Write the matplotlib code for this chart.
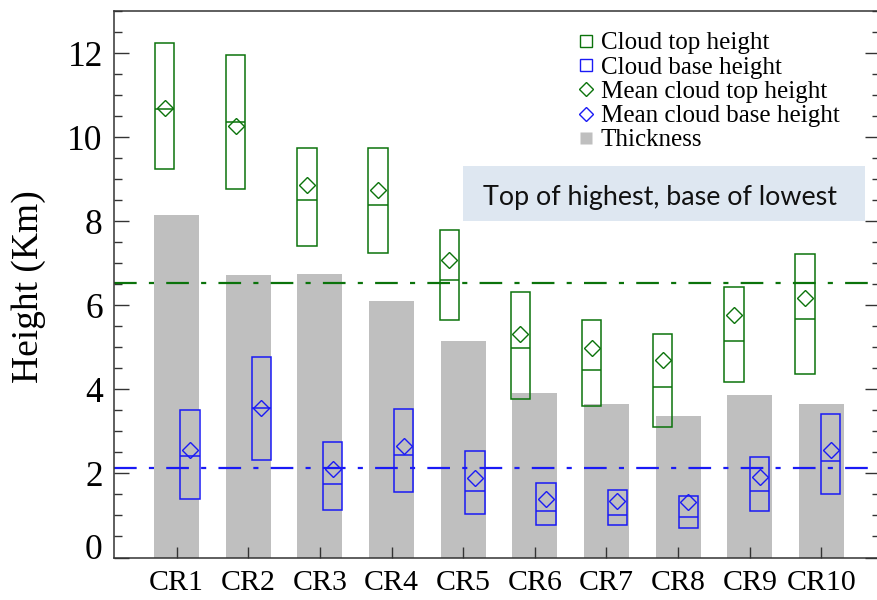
import matplotlib
matplotlib.use("Agg")
import matplotlib.pyplot as plt
import numpy as np
from matplotlib.lines import Line2D
from matplotlib.patches import Rectangle
from matplotlib.transforms import ScaledTranslation

# Cloud regimes and their height statistics (km)
categories = ["CR1", "CR2", "CR3", "CR4", "CR5", "CR6", "CR7", "CR8", "CR9", "CR10"]
thickness = [8.14, 6.72, 6.74, 6.10, 5.15, 3.91, 3.65, 3.37, 3.86, 3.65]

top_max = [12.23, 11.95, 9.73, 9.74, 7.78, 6.31, 5.64, 5.31, 6.43, 7.22]
top_min = [9.24, 8.76, 7.41, 7.24, 5.64, 3.78, 3.60, 3.10, 4.17, 4.37]
top_median = [10.68, 10.35, 8.51, 8.39, 6.61, 4.98, 4.47, 4.06, 5.16, 5.68]
top_mean = [10.70, 10.26, 8.85, 8.75, 7.07, 5.31, 4.99, 4.69, 5.77, 6.18]

base_max = [3.52, 4.78, 2.74, 3.54, 2.53, 1.77, 1.60, 1.46, 2.39, 3.41]
base_min = [1.39, 2.32, 1.12, 1.55, 1.03, 0.78, 0.77, 0.71, 1.11, 1.51]
base_median = [2.41, 3.56, 1.74, 2.43, 1.57, 1.10, 1.02, 0.97, 1.58, 2.30]
base_mean = [2.56, 3.56, 2.11, 2.65, 1.90, 1.40, 1.35, 1.32, 1.92, 2.55]

# overall reference levels
ref_top = 6.52
ref_base = 2.14

legend_labels = ["Cloud top height", "Cloud base height", "Mean cloud top height",
                 "Mean cloud base height", "Thickness"]
note_text = "Top of highest, base of lowest"

GREEN = "#0b730b"
BLUE = "#1a1af5"
GRAY = "#bfbfbf"
DASHDOT = (0, (10.2, 5.5, 2.3, 5.5))

plt.rcParams["font.family"] = ["Liberation Serif", "DejaVu Serif"]

W, H = 877, 600
fig = plt.figure(figsize=(W / 100, H / 100), dpi=100)
ax = fig.add_axes([113.5 / W, 1 - 557.5 / H, (879.5 - 113.5) / W, (557.5 - 11) / H])

x = np.arange(1, len(categories) + 1)
ax.bar(x, thickness, width=0.63, color=GRAY, zorder=1)

ax.axhline(ref_top, color=GREEN, lw=1.6, linestyle=DASHDOT, zorder=2)
ax.axhline(ref_base, color=BLUE, lw=1.6, linestyle=DASHDOT, zorder=2)

step = 0.9934
box_w = 0.27


def draw_boxes(xs, lo, hi, med, mean, color):
    lo = np.asarray(lo)
    hi = np.asarray(hi)
    ax.bar(xs, hi - lo, bottom=lo, width=box_w, fill=False, edgecolor=color,
           linewidth=1.1, zorder=3)
    ax.hlines(med, xs - box_w / 2, xs + box_w / 2, colors=color, linewidth=1.1, zorder=3)
    ax.plot(xs, mean, linestyle="none", marker="D", ms=8.1, mfc="none", mec=color,
            mew=1.0, zorder=4)


draw_boxes(x * step - 0.1614, top_min, top_max, top_median, top_mean, GREEN)
draw_boxes(x * step + 0.1966, base_min, base_max, base_median, base_mean, BLUE)

ax.set_xlim(0.12, 10.81)
ax.set_ylim(0, 13)
ax.set_xticks(x, categories)
ax.set_yticks(np.arange(0, 13, 2))
ax.set_yticks(np.arange(0, 13.01, 0.5), minor=True)

for s in ax.spines.values():
    s.set_linewidth(1.1)
    s.set_color("#333333")

ax.tick_params(axis="y", which="major", direction="in", length=10.8, width=1.0,
               left=True, right=True, labelsize=25.5, pad=7.7, color="#333333")
ax.tick_params(axis="y", which="minor", direction="in", length=5.5, width=1.0,
               left=True, right=True, color="#333333")
ax.tick_params(axis="x", which="major", direction="in", length=8, width=1.0,
               top=False, labelsize=21.5, pad=9, color="#333333")
ax.tick_params(axis="x", which="minor", bottom=False, top=False)

# lift the "0" label off the bottom spine
zero_lab = ax.yaxis.get_major_ticks()[0].label1
zero_lab.set_transform(zero_lab.get_transform() + ScaledTranslation(0, 8 / 72, fig.dpi_scale_trans))

fig.text(29 / W, 1 - 286.3 / H, "Height (Km)", rotation=90, ha="center", va="center",
         fontsize=27)

handles = [
    Line2D([], [], linestyle="none", marker="s", ms=9, mfc="none", mec=GREEN, mew=1.0),
    Line2D([], [], linestyle="none", marker="s", ms=9, mfc="none", mec=BLUE, mew=1.0),
    Line2D([], [], linestyle="none", marker="D", ms=6.8, mfc="none", mec=GREEN, mew=1.0),
    Line2D([], [], linestyle="none", marker="D", ms=6.8, mfc="none", mec=BLUE, mew=1.0),
    Line2D([], [], linestyle="none", marker="s", ms=9.1, mfc=GRAY, mec="none"),
]
ax.legend(handles, legend_labels, loc="upper left", bbox_to_anchor=(576 / W, 1 - 32 / H),
          bbox_transform=fig.transFigure, frameon=False, borderpad=0, borderaxespad=0,
          handlelength=0.77, handletextpad=0.22, labelspacing=0.07, fontsize=18)

fig.patches.append(Rectangle((463 / W, 1 - 220.7 / H), 402 / W, 54.7 / H,
                             transform=fig.transFigure, facecolor="#dee7f1",
                             edgecolor="none", zorder=1))
fig.text(483.3 / W, 1 - 205 / H, note_text, family=["Lato", "DejaVu Sans"], fontsize=19.4,
         ha="left", va="baseline", color="#111111", zorder=2)

fig.savefig("out.png", dpi=100)
